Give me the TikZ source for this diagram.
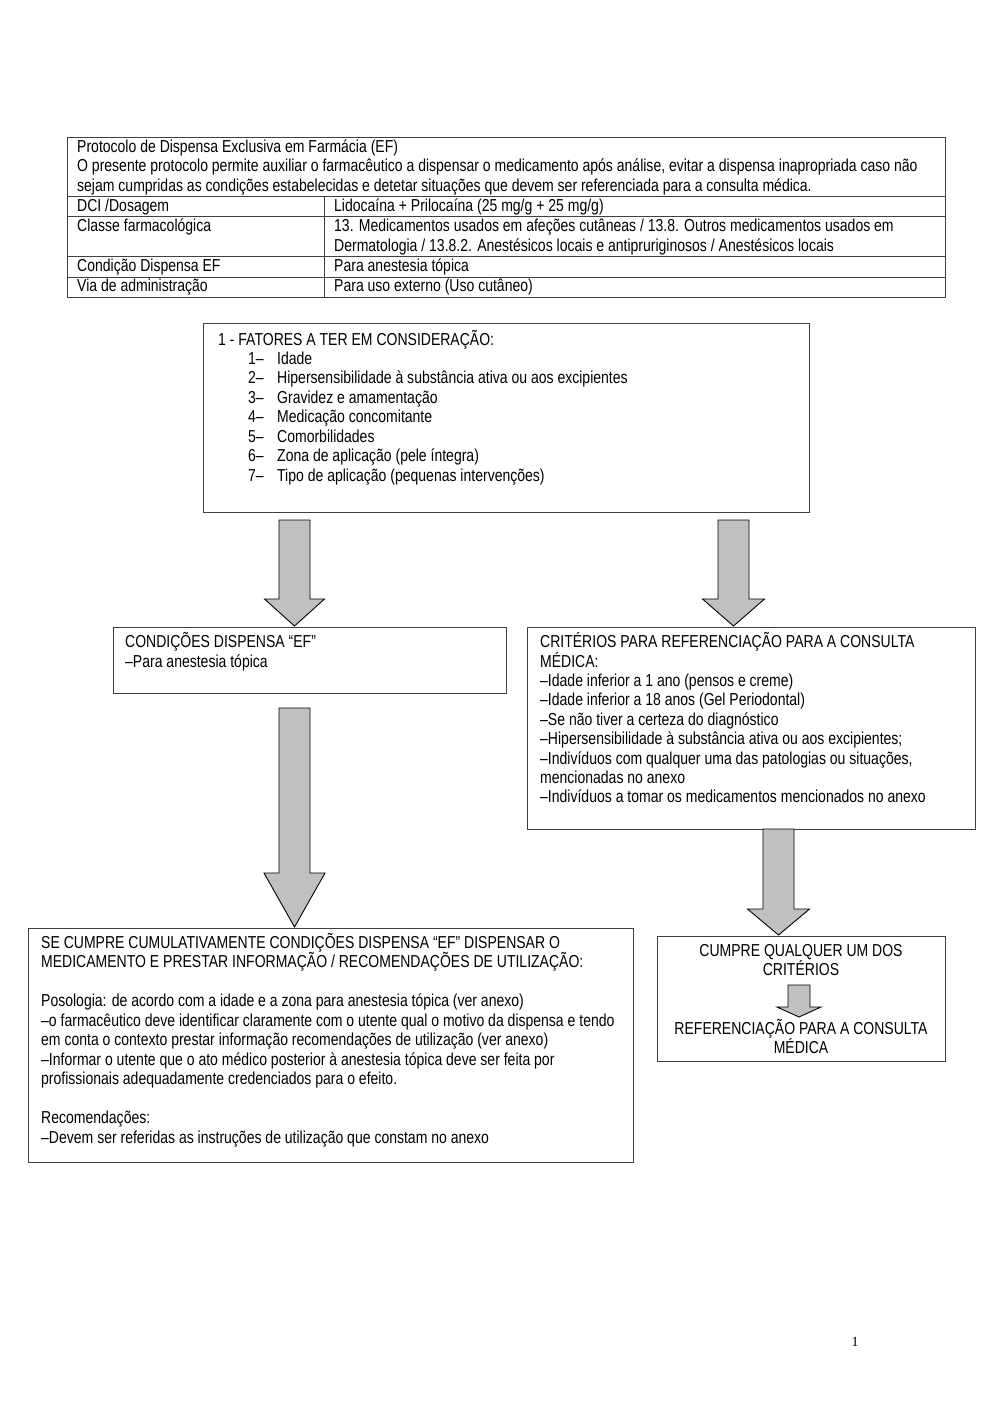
\documentclass[tikz,border=0pt]{standalone}
\usepackage{fontspec}
\setmainfont{Liberation Sans}[FakeStretch=0.81]
\newfontfamily\pagefont{Liberation Serif}
\definecolor{boxline}{RGB}{64,64,64}
\definecolor{arrowfill}{RGB}{192,192,192}
\newcommand\barrow[6]{%
  \draw[blockarrow] ({#1-#5},#2) -- ({#1+#5},#2) -- ({#1+#5},#3) -- ({#1+#6},#3)
    -- (#1,#4) -- ({#1-#6},#3) -- ({#1-#5},#3) -- cycle;}
\begin{document}
\begin{tikzpicture}[x=1pt,y=-1pt,
  box/.style={draw=boxline, line width=1.2pt, inner sep=0pt, anchor=north west},
  tableline/.style={draw=boxline, line width=1pt},
  blockarrow/.style={fill=arrowfill, draw=black, line width=0.9pt, line join=miter},
  tx/.style={anchor=base west, inner sep=0pt, font=\fontsize{17.3}{19.5}\selectfont},
  tc/.style={anchor=base, inner sep=0pt, font=\fontsize{17.3}{19.5}\selectfont}]
\useasboundingbox (0,0) rectangle (1000,1415);
\fill[white] (0,0) rectangle (1000,1415);
% ---- table ----
\draw[tableline] (67,138) rectangle (945,297);
\draw[tableline] (67,197) -- (945,197);
\draw[tableline] (67,217) -- (945,217);
\draw[tableline] (67,257) -- (945,257);
\draw[tableline] (67,277) -- (945,277);
\draw[tableline] (324,197) -- (324,297);
\node[tx] (h1) at (77,152.5) {Protocolo de Dispensa Exclusiva em Farmácia (EF)};
\node[tx] (h2) at (77,172) {O presente protocolo permite auxiliar o farmacêutico a dispensar o medicamento após análise, evitar a dispensa inapropriada caso não};
\node[tx] (h3) at (77,191.5) {sejam cumpridas as condições estabelecidas e detetar situações que devem ser referenciada para a consulta médica.};
\node[tx] (r1a) at (77,212) {DCI /Dosagem};
\node[tx] (r1b) at (334,212) {Lidocaína + Prilocaína (25 mg/g + 25 mg/g)};
\node[tx] (r2a) at (77,232) {Classe farmacológica};
\node[tx] (r2b) at (334,232) {13. Medicamentos usados em afeções cutâneas / 13.8. Outros medicamentos usados em};
\node[tx] (r2c) at (334,251.5) {Dermatologia / 13.8.2. Anestésicos locais e antipruriginosos / Anestésicos locais};
\node[tx] (r3a) at (77,271.5) {Condição Dispensa EF};
\node[tx] (r3b) at (334,271.5) {Para anestesia tópica};
\node[tx] (r4a) at (77,291.5) {Via de administração};
\node[tx] (r4b) at (334,291.5) {Para uso externo (Uso cutâneo)};
% ---- boxes ----
\node[box, minimum width=606pt, minimum height=189pt] (fat) at (203,323) {};
\node[box, minimum width=393pt, minimum height=66pt] (cond) at (113,627) {};
\node[box, minimum width=448pt, minimum height=202pt] (crit) at (527,627) {};
\node[box, minimum width=605pt, minimum height=234pt] (disp) at (28,928) {};
\node[box, minimum width=288pt, minimum height=125pt] (cump) at (657,936) {};
% ---- box 1 text ----
\node[tx] (f0) at (218,345) {1 - FATORES A TER EM CONSIDERAÇÃO:};
\node[tx] (n1) at (248,364) {1–}; \node[tx] (f1) at (277,364) {Idade};
\node[tx] (n2) at (248,383.5) {2–}; \node[tx] (f2) at (277,383.5) {Hipersensibilidade à substância ativa ou aos excipientes};
\node[tx] (n3) at (248,403) {3–}; \node[tx] (f3) at (277,403) {Gravidez e amamentação};
\node[tx] (n4) at (248,422.5) {4–}; \node[tx] (f4) at (277,422.5) {Medicação concomitante};
\node[tx] (n5) at (248,442) {5–}; \node[tx] (f5) at (277,442) {Comorbilidades};
\node[tx] (n6) at (248,461.5) {6–}; \node[tx] (f6) at (277,461.5) {Zona de aplicação (pele íntegra)};
\node[tx] (n7) at (248,481) {7–}; \node[tx] (f7) at (277,481) {Tipo de aplicação (pequenas intervenções)};
% ---- condições ----
\node[tx] (c1) at (125,647) {CONDIÇÕES DISPENSA “EF”};
\node[tx] (c2) at (125,667) {–Para anestesia tópica};
% ---- critérios ----
\node[tx] (k1) at (540,647) {CRITÉRIOS PARA REFERENCIAÇÃO PARA A CONSULTA};
\node[tx] (k2) at (540,667) {MÉDICA:};
\node[tx] (k3) at (540,686) {–Idade inferior a 1 ano (pensos e creme)};
\node[tx] (k4) at (540,705.5) {–Idade inferior a 18 anos (Gel Periodontal)};
\node[tx] (k5) at (540,725) {–Se não tiver a certeza do diagnóstico};
\node[tx] (k6) at (540,744.5) {–Hipersensibilidade à substância ativa ou aos excipientes;};
\node[tx] (k7) at (540,764) {–Indivíduos com qualquer uma das patologias ou situações,};
\node[tx] (k8) at (540,783) {mencionadas no anexo};
\node[tx] (k9) at (540,802.5) {–Indivíduos a tomar os medicamentos mencionados no anexo};
% ---- dispensa ----
\node[tx] (d1) at (41,948) {SE CUMPRE CUMULATIVAMENTE CONDIÇÕES DISPENSA “EF” DISPENSAR O};
\node[tx] (d2) at (41,967.5) {MEDICAMENTO E PRESTAR INFORMAÇÃO / RECOMENDAÇÕES DE UTILIZAÇÃO:};
\node[tx] (d3) at (41,1006.5) {Posologia: de acordo com a idade e a zona para anestesia tópica (ver anexo)};
\node[tx] (d4) at (41,1026) {–o farmacêutico deve identificar claramente com o utente qual o motivo da dispensa e tendo};
\node[tx] (d5) at (41,1045.5) {em conta o contexto prestar informação recomendações de utilização (ver anexo)};
\node[tx] (d6) at (41,1065) {–Informar o utente que o ato médico posterior à anestesia tópica deve ser feita por};
\node[tx] (d7) at (41,1084.5) {profissionais adequadamente credenciados para o efeito.};
\node[tx] (d8) at (41,1123.5) {Recomendações:};
\node[tx] (d9) at (41,1143) {–Devem ser referidas as instruções de utilização que constam no anexo};
% ---- cumpre ----
\node[tc] (u1) at (801,956) {CUMPRE QUALQUER UM DOS};
\node[tc] (u2) at (801,975.5) {CRITÉRIOS};
\node[tc] (u3) at (801,1034) {REFERENCIAÇÃO PARA A CONSULTA};
\node[tc] (u4) at (801,1053.5) {MÉDICA};
% ---- block arrows ----
\barrow{294.5}{520}{599}{626}{15.5}{30}
\barrow{733.5}{520}{599}{626}{15.5}{31}
\barrow{294.5}{708}{873}{927}{15.5}{30.5}
\barrow{778.5}{829}{909}{935}{15.5}{31}
\barrow{799}{985}{1007}{1017}{11}{22}
% ---- page number ----
\node[anchor=base, inner sep=0pt, font=\pagefont\fontsize{14}{16}\selectfont] (pg) at (855,1346) {1};
\end{tikzpicture}
\end{document}
